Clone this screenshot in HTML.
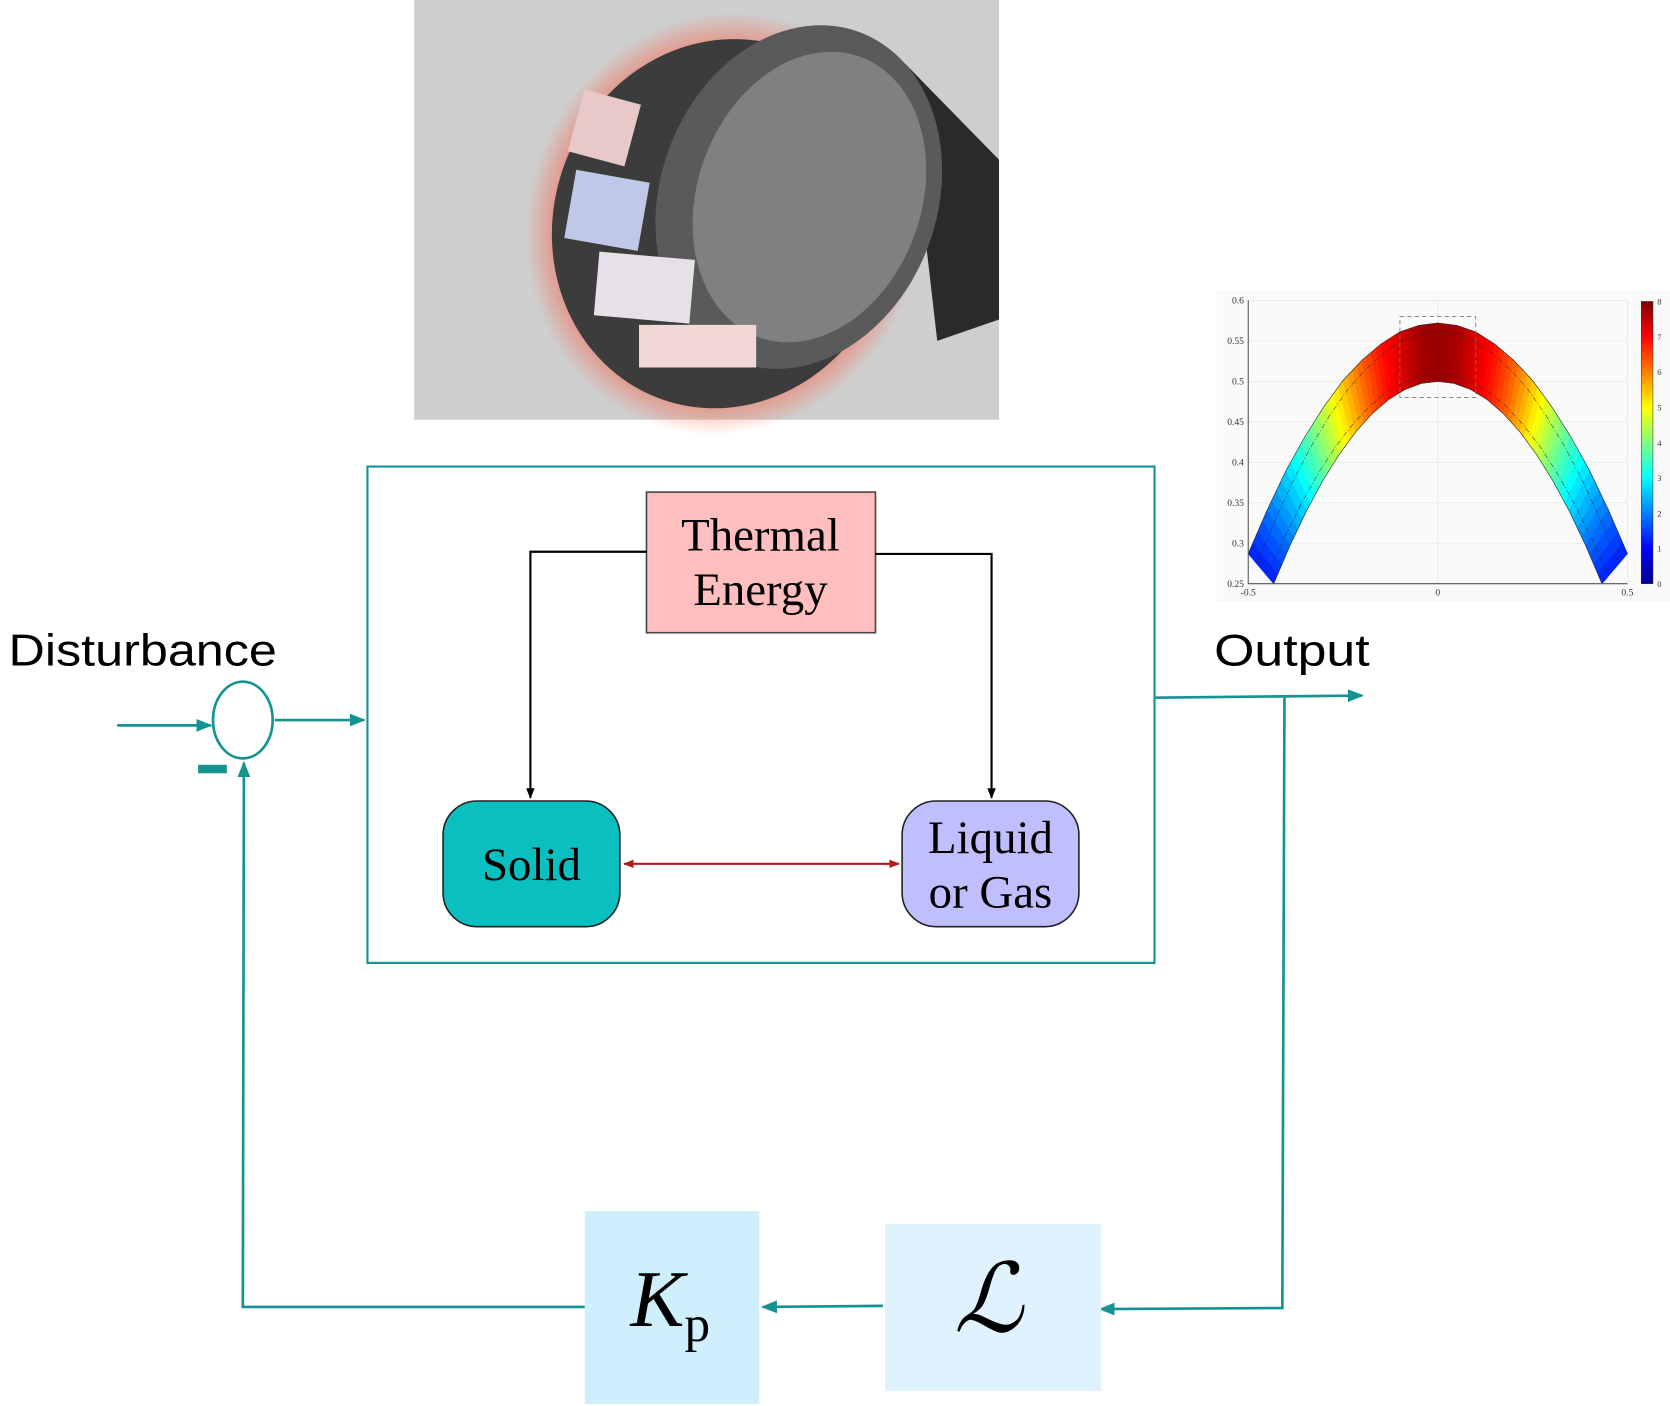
<!DOCTYPE html>
<html><head><meta charset="utf-8"><style>
html,body{margin:0;padding:0;background:#fff;}
svg{display:block;}
.serif{font-family:"Liberation Serif","DejaVu Serif",serif;}
.sans{font-family:"Liberation Sans","DejaVu Sans",sans-serif;}
</style></head><body>
<svg id="root" width="1670" height="1406" viewBox="0 0 1568 1320" preserveAspectRatio="none" xmlns="http://www.w3.org/2000/svg">
<defs>
<marker id="ta" viewBox="0 0 10 10" refX="9" refY="5" markerWidth="6" markerHeight="6" orient="auto-start-reverse"><path d="M0,1L10,5L0,9z" fill="#159393"/></marker>
<marker id="ba" viewBox="0 0 10 10" refX="9" refY="5" markerWidth="5" markerHeight="6" orient="auto-start-reverse"><path d="M0,1L10,5L0,9z" fill="#000"/></marker>
<marker id="ra" viewBox="0 0 10 10" refX="9" refY="5" markerWidth="5" markerHeight="5" orient="auto-start-reverse"><path d="M0,1L10,5L0,9z" fill="#b01c1c"/></marker>
<radialGradient id="glow" cx="0.5" cy="0.5" r="0.5"><stop offset="0.8" stop-color="#ff5030" stop-opacity="0.6"/><stop offset="1" stop-color="#ff5030" stop-opacity="0"/></radialGradient>
<linearGradient id="cbar" x1="0" y1="1" x2="0" y2="0">
<stop offset="0" stop-color="#00008f"/><stop offset="0.125" stop-color="#0000ff"/><stop offset="0.375" stop-color="#00ffff"/><stop offset="0.625" stop-color="#ffff00"/><stop offset="0.875" stop-color="#ff0000"/><stop offset="1" stop-color="#800000"/></linearGradient>
</defs>

<!-- photo -->
<g>
<rect x="389" y="0" width="549" height="394" fill="#d6d6d6"/>
<rect x="389" y="0" width="549" height="394" fill="#c4c4c4" opacity="0.4"/>
<path d="M850,60 L938,150 L938,300 L880,320 Z" fill="#2a2a2a"/>
<ellipse cx="680" cy="210" rx="185" ry="200" transform="rotate(20 680 210)" fill="url(#glow)"/>
<ellipse cx="680" cy="210" rx="160" ry="175" transform="rotate(20 680 210)" fill="#3c3c3c"/>
<ellipse cx="750" cy="185" rx="130" ry="165" transform="rotate(20 750 185)" fill="#5a5a5a"/>
<ellipse cx="760" cy="185" rx="105" ry="140" transform="rotate(20 760 185)" fill="#808080"/>
<rect x="540" y="90" width="55" height="60" fill="#e8c8c8" transform="rotate(15 567 120)"/>
<rect x="535" y="165" width="70" height="65" fill="#c0c8e8" transform="rotate(10 570 197)"/>
<rect x="560" y="240" width="90" height="60" fill="#e8e0e8" transform="rotate(5 605 270)"/>
<rect x="600" y="305" width="110" height="40" fill="#f0d8d8"/>
</g>

<!-- chart -->
<g id="chart">
<rect x="1142" y="272" width="426" height="293" fill="#fafafa"/>
<g id="grid"></g>
<g id="arch"></g>
<g id="axes"></g>
<rect x="1541" y="283" width="11" height="265" fill="url(#cbar)" stroke="#333" stroke-width="0.5"/>
<g id="cbticks"></g>
</g>

<!-- main box -->
<rect x="345" y="438" width="739" height="466" fill="none" stroke="#159393" stroke-width="2"/>
<rect x="607" y="462" width="215" height="132" fill="#ffbfbf" stroke="#444" stroke-width="1.5"/>
<text class="serif" x="714" y="517" font-size="44" text-anchor="middle">Thermal</text>
<text class="serif" x="714" y="568" font-size="44" text-anchor="middle">Energy</text>
<rect x="416" y="752" width="166" height="118" rx="32" fill="#0abfbf" stroke="#222" stroke-width="1.5"/>
<text class="serif" x="499" y="826" font-size="44" text-anchor="middle">Solid</text>
<rect x="847" y="752" width="166" height="118" rx="32" fill="#bfbfff" stroke="#222" stroke-width="1.5"/>
<text class="serif" x="930" y="801" font-size="44" text-anchor="middle">Liquid</text>
<text class="serif" x="930" y="852" font-size="44" text-anchor="middle">or Gas</text>
<path d="M607,518 L498,518 L498,749" fill="none" stroke="#000" stroke-width="2" marker-end="url(#ba)"/>
<path d="M822,520 L931,520 L931,749" fill="none" stroke="#000" stroke-width="2" marker-end="url(#ba)"/>
<line x1="586" y1="811" x2="844" y2="811" stroke="#b01c1c" stroke-width="2" marker-start="url(#ra)" marker-end="url(#ra)"/>

<!-- loop -->
<text class="sans" x="8" y="625" font-size="42" textLength="252" lengthAdjust="spacingAndGlyphs">Disturbance</text>
<text class="sans" x="1140" y="625" font-size="42" textLength="146" lengthAdjust="spacingAndGlyphs">Output</text>
<ellipse cx="228" cy="676" rx="28" ry="36" fill="none" stroke="#159393" stroke-width="2.5"/>
<line x1="110" y1="681" x2="198" y2="681" stroke="#159393" stroke-width="2.5" marker-end="url(#ta)"/>
<line x1="258" y1="676" x2="342" y2="676" stroke="#159393" stroke-width="2.5" marker-end="url(#ta)"/>
<rect x="186" y="718" width="27" height="8" fill="#159393"/>
<line x1="1084" y1="655" x2="1279" y2="653" stroke="#159393" stroke-width="2.5" marker-end="url(#ta)"/>
<path d="M1206,655 L1204,1228 L1033,1229" fill="none" stroke="#159393" stroke-width="2.5" marker-end="url(#ta)"/>
<rect x="831" y="1149" width="203" height="157" fill="#dff2fd"/>
<text class="serif" x="928" y="1250" font-size="90" font-style="italic" text-anchor="middle">ℒ</text>
<line x1="829" y1="1226" x2="716" y2="1227" stroke="#159393" stroke-width="2.5" marker-end="url(#ta)"/>
<rect x="549" y="1137" width="164" height="181" fill="#d0effc"/>
<text class="serif" x="592" y="1245" font-size="76" font-style="italic">K<tspan font-size="48" font-style="normal" dy="14">p</tspan></text>
<path d="M549,1227 L228,1227 L229,716" fill="none" stroke="#159393" stroke-width="2.5" marker-end="url(#ta)"/>
</svg>
<script>
const archX = [-0.5,-0.45,-0.4,-0.35,-0.3,-0.25,-0.2,-0.15,-0.1,-0.05,0,0.05,0.1,0.15,0.2,0.25,0.3,0.35,0.4,0.45,0.5];
const outerY = [0.287,0.341,0.390,0.432,0.469,0.501,0.526,0.546,0.561,0.569,0.572,0.569,0.561,0.546,0.526,0.501,0.469,0.432,0.390,0.341,0.287];
const innerY = [0.25,0.2975,0.34,0.3775,0.41,0.4375,0.46,0.4775,0.49,0.4975,0.5,0.4975,0.49,0.4775,0.46,0.4375,0.41,0.3775,0.34,0.2975,0.25];
const heat = [1.2,1.9,2.7,3.6,4.6,5.5,6.3,6.9,7.3,7.7,7.8,7.7,7.3,6.9,6.3,5.5,4.6,3.6,2.7,1.9,1.2];
const xTicks = [-0.5,0,0.5];
const yTicks = [0.25,0.3,0.35,0.4,0.45,0.5,0.55,0.6];
const cbTicks = [0,1,2,3,4,5,6,7,8];
const NS='http://www.w3.org/2000/svg';
const X0=1172,X1=1528,Y0=548,Y1=282;
function sx(x){return X0+(x+0.5)/1*(X1-X0);}
function sy(y){return Y0-(y-0.25)/0.35*(Y0-Y1);}
function jet(v){const t=v/8;const c=(a)=>Math.round(255*Math.max(0,Math.min(1,a)));
 return 'rgb('+c(1.5-Math.abs(4*t-3))+','+c(1.5-Math.abs(4*t-2))+','+c(1.5-Math.abs(4*t-1))+')';}
function mk(tag,attrs,parent){const e=document.createElementNS(NS,tag);for(const k in attrs)e.setAttribute(k,attrs[k]);parent.appendChild(e);return e;}
const grid=document.getElementById('grid'),arch=document.getElementById('arch'),axes=document.getElementById('axes'),cbt=document.getElementById('cbticks');
yTicks.forEach(v=>{const l=mk('line',{x1:X0,x2:X1,y1:sy(v),y2:sy(v),stroke:'#e6e6e6','stroke-width':0.7},grid);

const t=mk('text',{x:X0-4,y:sy(v)+3,'font-size':9,'text-anchor':'end','font-family':'Liberation Serif, serif',fill:'#333'},axes);
t.textContent=String(v);});
xTicks.forEach(v=>{const l=mk('line',{x1:sx(v),x2:sx(v),y1:Y0,y2:Y1,stroke:'#e6e6e6','stroke-width':0.7},grid);

const t=mk('text',{x:sx(v),y:Y0+11,'font-size':9,'text-anchor':'middle','font-family':'Liberation Serif, serif',fill:'#333'},axes);
t.textContent=String(v);});
const ax=mk('path',{d:`M${X0},${Y1}L${X0},${Y0}L${X1},${Y0}`,fill:'none',stroke:'#555','stroke-width':1},axes);

const SUB=4;
for(let i=0;i<archX.length-1;i++){
 for(let s=0;s<SUB;s++){
  const a=s/SUB,b=(s+1)/SUB;
  const L=(arr,f)=>arr[i]+(arr[i+1]-arr[i])*f;
  const ox1=sx(L(archX,a)),ox2=sx(L(archX,b));
  const ix1=sx(L(archX,a)*0.866),ix2=sx(L(archX,b)*0.866);
  const pts=[[ox1,sy(L(outerY,a))],[ox2,sy(L(outerY,b))],[ix2,sy(L(innerY,b))],[ix1,sy(L(innerY,a))]];
  const v=L(heat,(a+b)/2);
  const p=mk('polygon',{points:pts.map(q=>q.join(',')).join(' '),fill:jet(v),stroke:jet(v),'stroke-width':0.6},arch);
  
 }
}
const op=mk('path',{d:'M'+archX.map((x,i)=>sx(x)+','+sy(outerY[i])).join('L'),fill:'none',stroke:'#333','stroke-width':0.6},arch);

const ip=mk('path',{d:'M'+archX.map((x,i)=>sx(x*0.866)+','+sy(innerY[i])).join('L'),fill:'none',stroke:'#333','stroke-width':0.6},arch);

const mp=mk('path',{d:'M'+archX.map((x,i)=>sx(x*0.95)+','+sy(outerY[i]-0.011)).join('L'),fill:'none',stroke:'#333','stroke-width':0.5,'stroke-dasharray':'5,2,1,2'},arch);

const mp2=mk('path',{d:'M'+archX.map((x,i)=>sx(x*0.9)+','+sy(innerY[i]+0.009)).join('L'),fill:'none',stroke:'#333','stroke-width':0.5,'stroke-dasharray':'5,2,1,2'},arch);

const db=mk('rect',{x:sx(-0.1),y:sy(0.58),width:sx(0.1)-sx(-0.1),height:sy(0.48)-sy(0.58),fill:'none',stroke:'#777','stroke-dasharray':'4,3','stroke-width':0.8},arch);

cbTicks.forEach(v=>{const t=mk('text',{x:1556,y:548-v/8*265+3,'font-size':8,'font-family':'Liberation Serif, serif',fill:'#333'},cbt);
t.textContent=v;});
</script>
</body></html>
